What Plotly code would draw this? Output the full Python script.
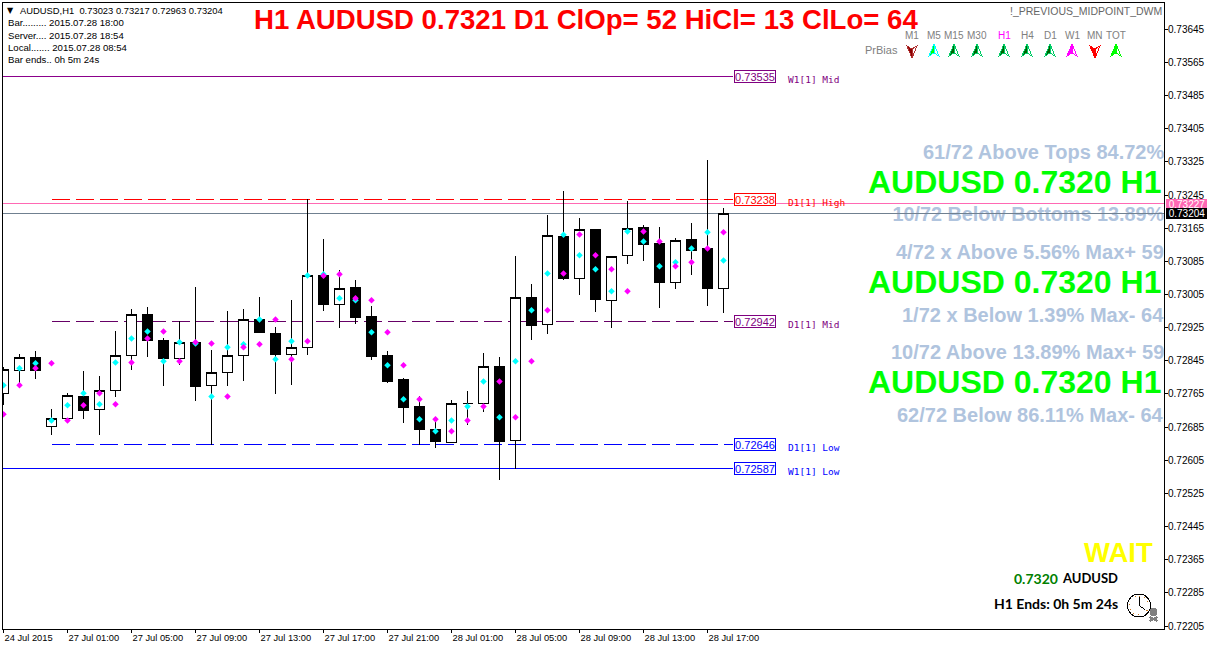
import plotly.graph_objs as go

opens = [0.72770,0.72825,0.72856,0.72690,0.72709,0.72762,0.72731,0.72777,0.72861,0.72960,0.72897,0.72854,0.72893,0.72789,0.72820,0.72861,
         0.72948,0.72914,0.72864,0.72881,0.73053,0.72984,0.73024,0.72956,0.72860,0.72802,0.72737,0.72683,0.72651,0.72745,0.72745,0.72835,
         0.72656,0.73002,0.72936,0.73149,0.73047,0.73166,0.72994,0.73103,0.73169,0.73130,0.73037,0.73140,0.73120,0.73023]
highs = [0.72832,0.72864,0.72872,0.72731,0.72770,0.72823,0.72811,0.72920,0.72973,0.72977,0.72902,0.72943,0.73026,0.72874,0.72968,0.72973,
         0.73002,0.72929,0.72995,0.73238,0.73142,0.73066,0.73043,0.72980,0.72872,0.72807,0.72763,0.72707,0.72753,0.72775,0.72867,0.72857,
         0.73101,0.73033,0.73200,0.73258,0.73193,0.73166,0.73100,0.73234,0.73176,0.73171,0.73144,0.73181,0.73333,0.73217]
lows = [0.72741,0.72787,0.72805,0.72669,0.72709,0.72708,0.72669,0.72761,0.72827,0.72858,0.72787,0.72839,0.72752,0.72646,0.72787,0.72800,
        0.72916,0.72769,0.72790,0.72863,0.72969,0.72926,0.72938,0.72851,0.72794,0.72699,0.72646,0.72638,0.72651,0.72694,0.72725,0.72560,
        0.72588,0.72898,0.72913,0.73043,0.73008,0.72967,0.72926,0.73082,0.73090,0.72976,0.73022,0.73056,0.72981,0.72963]
closes = [0.72826,0.72856,0.72824,0.72709,0.72765,0.72728,0.72777,0.72861,0.72960,0.72897,0.72853,0.72893,0.72786,0.72820,0.72861,0.72948,
          0.72916,0.72863,0.72881,0.73053,0.72983,0.73023,0.72952,0.72858,0.72798,0.72735,0.72682,0.72653,0.72745,0.72745,0.72835,0.72653,
          0.73001,0.72933,0.73151,0.73046,0.73165,0.72996,0.73100,0.73168,0.73128,0.73037,0.73139,0.73114,0.73022,0.73204]
cyan = [0.72789,0.72830,0.72842,0.72704,0.72741,0.72770,0.72743,0.72844,0.72902,0.72919,0.72847,0.72893,0.72890,0.72762,0.72881,0.72888,
        0.72948,0.72852,0.72895,0.73054,0.73057,0.72999,0.72994,0.72917,0.72837,0.72755,0.72707,0.72678,0.72704,0.72738,0.72798,0.72712,
        0.72847,0.72970,0.73059,0.73152,0.73103,0.73069,0.73016,0.73160,0.73136,0.73076,0.73086,0.73119,0.73158,0.73090]
magenta = [0.72719,0.72789,0.72830,0.72842,0.72704,0.72741,0.72770,0.72743,0.72844,0.72902,0.72919,0.72847,0.72893,0.72890,0.72762,0.72881,
           0.72888,0.72948,0.72852,0.72895,0.73053,0.73057,0.72999,0.72994,0.72917,0.72837,0.72755,0.72707,0.72678,0.72704,0.72738,0.72798,
           0.72712,0.72847,0.72970,0.73059,0.73153,0.73103,0.73069,0.73016,0.73160,0.73136,0.73076,0.73086,0.73119,0.73158]

tick_bars = [0, 4, 8, 12, 16, 20, 24, 28, 32, 36, 40, 44]
tick_text = ['24 Jul 2015', '27 Jul 01:00', '27 Jul 05:00', '27 Jul 09:00', '27 Jul 13:00', '27 Jul 17:00',
             '27 Jul 21:00', '28 Jul 01:00', '28 Jul 05:00', '28 Jul 09:00', '28 Jul 13:00', '28 Jul 17:00']
price_ticks = ['0.73645', '0.73565', '0.73485', '0.73405', '0.73325', '0.73245', '0.73165', '0.73085', '0.73005', '0.72925',
               '0.72845', '0.72765', '0.72685', '0.72605', '0.72525', '0.72445', '0.72365', '0.72285', '0.72205']

level_values = [0.73535, 0.73238, 0.72942, 0.72646, 0.72587]
level_names = ['W1[1] Mid', 'D1[1] High', 'D1[1] Mid', 'D1[1] Low', 'W1[1] Low']
level_colors = ['#800080', '#ff0000', '#800080', '#0000ff', '#0000ff']
level_line_colors = ['#8b008b', '#ff0000', '#660066', '#0000ff', '#0000ff']
level_dash = ['solid', '18px,6px', '18px,6px', '18px,6px', 'solid']

ask_price, bid_price = 0.73227, 0.73204

tf_names = ['M1', 'M5', 'M15', 'M30', 'H1', 'H4', 'D1', 'W1', 'MN', 'TOT']
tf_x = [912, 934, 954, 977, 1004, 1027, 1050, 1072, 1095, 1116]
tf_up = [False, True, True, True, True, True, True, True, False, True]
tf_fill = ['#8b0000', '#00ff00', '#006400', '#006400', '#006400', '#006400', '#006400', '#ff00ff', '#ff0000', '#00ff00']
tf_edge = ['#b03030', '#00ffff', '#00cc66', '#00cc66', '#00cc66', '#00cc66', '#00cc66', '#ff00ff', '#ff0000', '#00ff00']

W, H = 1207, 647
L, R, T, B = 3, 43, 3, 18
SANS = 'Liberation Sans'
CRISP = ".shapelayer path, .boxlayer path, .annotation rect {shape-rendering: crispEdges !important;}"


def fx(x):
    return (x - L) / (W - L - R)


def fy(y):
    return 1 - (y - T) / (H - T - B)


def bar_at(x):
    return (x - 3.5) / 16


def label(x, y, text, size, color, anchor='left', family=SANS, bold=False):
    return dict(x=fx(x), y=fy(y), xref='paper', yref='paper', text='<b>' + text + '</b>' if bold else text,
                showarrow=False, xanchor=anchor, yanchor='middle', borderpad=0,
                font=dict(family=family, size=size, color=color))


def icon(x, y, **kw):
    # shape drawn in pixels around an anchor point
    return dict(xref='paper', yref='paper', xsizemode='pixel', ysizemode='pixel', xanchor=fx(x), yanchor=fy(y), **kw)


bars = list(range(46))
fig = go.Figure()
fig.add_trace(go.Scatter(x=[bar_at(1164)], y=[0.73197], mode='text', text=['<b>10/72 Below Bottoms 13.89%</b>'],
                         textposition='middle left', cliponaxis=False, hoverinfo='skip',
                         textfont=dict(family=SANS, size=19.8, color='#b0c4de')))
fig.add_trace(go.Candlestick(x=bars, open=opens, high=highs, low=lows, close=closes, whiskerwidth=0,
                             increasing=dict(fillcolor='#ffffff', line=dict(color='#000000', width=1)),
                             decreasing=dict(fillcolor='#000000', line=dict(color='#000000', width=1))))
fig.add_trace(go.Scatter(x=bars, y=cyan, mode='markers', hoverinfo='skip',
                         marker=dict(symbol='diamond', size=5, color='#00ffff')))
fig.add_trace(go.Scatter(x=bars, y=magenta, mode='markers', hoverinfo='skip',
                         marker=dict(symbol='diamond', size=5, color='#ff00ff')))

shapes = []
for value, color, dash in zip(level_values, level_line_colors, level_dash):
    shapes.append(dict(type='line', xref='x', yref='y', x0=bar_at(L) if dash == 'solid' else 3, x1=bar_at(733), y0=value, y1=value,
                       layer='below', line=dict(color=color, width=1, dash=dash)))
shapes.append(dict(type='line', xref='paper', yref='y', x0=0, x1=1, y0=ask_price, y1=ask_price, layer='below',
                   line=dict(color='#ff69b4', width=1)))
shapes.append(dict(type='line', xref='paper', yref='y', x0=0, x1=fx(760), y0=bid_price, y1=bid_price, layer='below',
                   line=dict(color='#708090', width=1)))
shapes.append(dict(type='line', xref='paper', yref='y', x0=fx(760), x1=1, y0=bid_price, y1=bid_price, layer='above',
                   line=dict(color='#708090', width=1)))

# trend arrows of the bias panel
for x, up, fill, edge in zip(tf_x, tf_up, tf_fill, tf_edge):
    s = 1 if up else -1
    shapes.append(icon(x, 51, type='path', path=f'M0,{7*s} L-5,{-5*s} L0,{-2*s} Z', fillcolor=fill, line=dict(color=edge, width=1)))
    shapes.append(icon(x, 51, type='path', path=f'M0,{7*s} L5,{-5*s} L0,{-2*s} Z', fillcolor='#ffffff', line=dict(color=edge, width=1)))

# clock and skull
shapes.append(icon(1139, 605.5, type='circle', x0=-11.5, x1=11.5, y0=-11.5, y1=11.5, line=dict(color='#000000', width=1)))
shapes.append(icon(1139, 605.5, type='circle', x0=-9.5, x1=9.5, y0=-9.5, y1=9.5, line=dict(color='#c87820', width=1, dash='1px,4px')))
shapes.append(icon(1139, 605.5, type='path', path='M0,9 L0,0 L6,-4', line=dict(color='#000000', width=1)))
shapes.append(icon(1153.5, 612, type='circle', x0=-3.5, x1=3.5, y0=-3.5, y1=3.5, fillcolor='#808080', line=dict(color='#808080', width=1)))
shapes.append(icon(1153.5, 612, type='path', path='M-4,-5 L4,-9 M-4,-9 L4,-5', line=dict(color='#808080', width=2)))

ann = []
ann.append(label(6, 11, '▼', 8, '#000000', family='DejaVu Sans'))
ann.append(label(19, 11, 'AUDUSD,H1  0.73023 0.73217 0.72963 0.73204', 9.4, '#000000'))
ann.append(label(7, 23, 'Bar......... 2015.07.28 18:00', 9.6, '#000000'))
ann.append(label(7, 35, 'Server.... 2015.07.28 18:54', 9.6, '#000000'))
ann.append(label(7, 47, 'Local....... 2015.07.28 08:54', 9.6, '#000000'))
ann.append(label(7, 59, 'Bar ends.. 0h 5m 24s', 9.6, '#000000'))
ann.append(label(585.5, 19, 'H1 AUDUSD 0.7321 D1 ClOp= 52 HiCl= 13 ClLo= 64', 27.6, '#ff0000', anchor='center', bold=True))
ann.append(label(1163, 11, '!_PREVIOUS_MIDPOINT_DWM', 10.5, '#666666', anchor='right'))
ann.append(label(864, 50, 'PrBias', 11, '#808080'))
for x, name in zip(tf_x, tf_names):
    ann.append(label(x, 35, name, 10, '#ff00ff' if name == 'H1' else '#808080', anchor='center'))

for value, name, color in zip(level_values, level_names, level_colors):
    ann.append(dict(x=fx(734), y=value, xref='paper', yref='y', text=f'{value:.5f}', showarrow=False, xanchor='left', yanchor='middle',
                    width=40, height=11, borderpad=0, borderwidth=1, bordercolor=color, bgcolor='#ffffff',
                    font=dict(family=SANS, size=11, color=color)))
    ann.append(dict(x=fx(786), y=value, xref='paper', yref='y', yshift=-3, text=name, showarrow=False, xanchor='left', yanchor='middle',
                    font=dict(family='DejaVu Sans Mono', size=9.5, color=color)))

for y, text in [(152, '61/72 Above Tops 84.72%'), (252, '4/72 x Above 5.56% Max+ 59'), (315, '1/72 x Below 1.39% Max- 64'),
                (352, '10/72 Above 13.89% Max+ 59'), (415, '62/72 Below 86.11% Max- 64')]:
    ann.append(label(1165, y, text, 20, '#b0c4de', anchor='right', bold=True))
for y in [182, 282, 382]:
    ann.append(label(1162, y, 'AUDUSD 0.7320 H1', 32, '#00ff00', anchor='right', bold=True))

ann.append(label(1154, 552, 'WAIT', 27.5, '#ffff00', anchor='right', bold=True))
ann.append(label(1059, 578, '0.7320', 14, '#008000', anchor='right', family='Lato', bold=True))
ann.append(label(1119, 578, 'AUDUSD', 13, '#000000', anchor='right', family='Lato', bold=True))
ann.append(label(1119, 603, 'H1 Ends: 0h 5m 24s', 14, '#000000', anchor='right', family='Lato', bold=True))

for price, bg in [(ask_price, '#ff69b4'), (bid_price, '#000000')]:
    ann.append(dict(x=fx(1165), y=price, xref='paper', yref='y', text=f'{price:.5f}', showarrow=False, xanchor='left', yanchor='middle',
                    width=42, height=10, borderpad=0, bgcolor=bg, align='center',
                    font=dict(family=SANS, size=10, color='#ffffff')))

fig.update_layout(width=W, height=H, margin=dict(l=L, r=R, t=T, b=B, autoexpand=False), paper_bgcolor='#ffffff', plot_bgcolor='#ffffff',
                  showlegend=False, boxmode='overlay', boxgap=0.375, boxgroupgap=0, shapes=shapes, annotations=ann)
fig.update_xaxes(range=[bar_at(L), bar_at(1164)], rangeslider_visible=False, showgrid=False, zeroline=False,
                 tickmode='array', tickvals=tick_bars, ticktext=tick_text, ticks='outside', ticklen=3, tickcolor='#000000',
                 ticklabelposition='outside right', tickfont=dict(family=SANS, size=9.3, color='#000000'),
                 showline=True, mirror=True, linecolor='#000000', linewidth=1)
fig.update_yaxes(side='right', range=[0.722008, 0.737115], showgrid=False, zeroline=False, tickmode='array',
                 tickvals=[float(t) + 0.00003 for t in price_ticks], ticktext=price_ticks, ticks='outside', ticklen=3, tickcolor='#000000',
                 ticklabelstandoff=-2, tickfont=dict(family=SANS, size=10, color='#000000'),
                 showline=True, mirror=True, linecolor='#000000', linewidth=1)

# drop the browser's default 8px body margin and keep the thin lines sharp
fig.write_html("out.html", config={'displayModeBar': False},
               post_script="document.body.style.margin='0';var s=document.createElement('style');s.textContent='%s';document.head.appendChild(s);" % CRISP)
